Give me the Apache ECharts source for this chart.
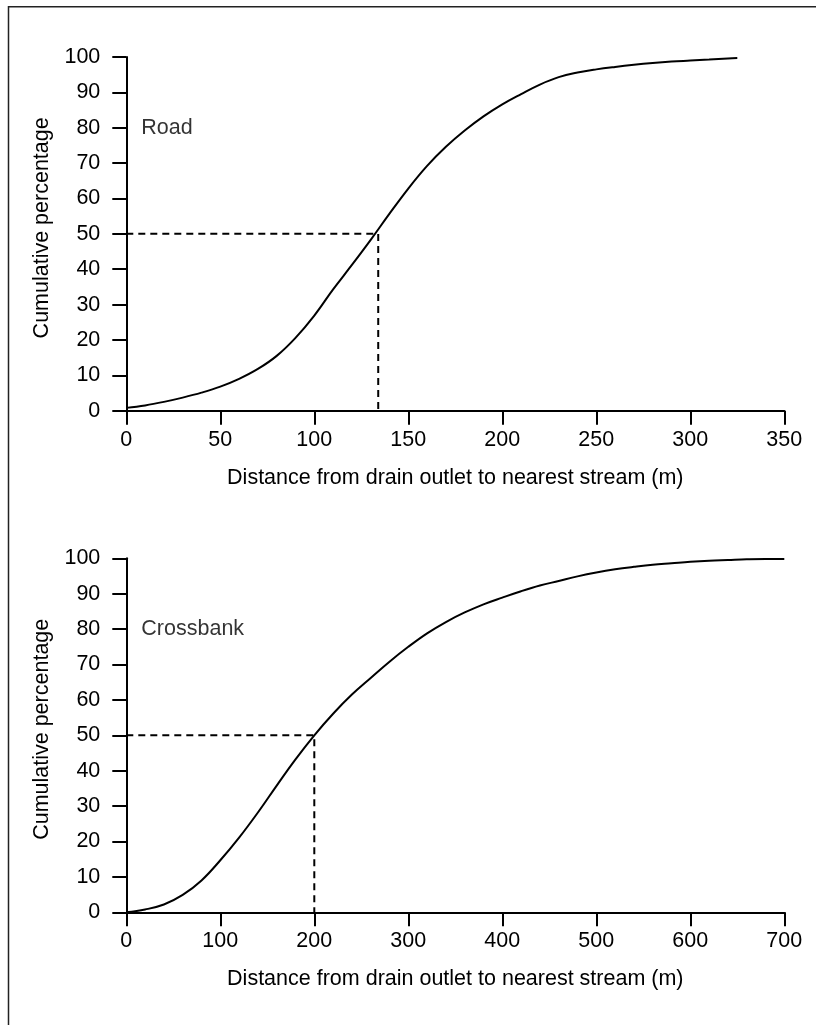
<!DOCTYPE html>
<html>
<head>
<meta charset="utf-8">
<script src="https://cdn.jsdelivr.net/npm/echarts@6/dist/echarts.min.js"></script>
<style>
html,body{margin:0;padding:0;background:#fff;}
#chart{width:816px;height:1025px;}
</style>
</head>
<body>
<div id="chart"></div>
<script>
// ---- Data ----
const roadDist = [0,10,20,30,40,50,60,70,80,90,100,110,120,130,140,150,160,170,180,190,200,210,220,230,240,250,260,270,280,290,300,310,320,325];
const roadPct  = [0.8,1.5,2.5,3.7,5.1,6.8,9.0,11.8,15.5,20.6,26.9,34.3,41.2,48.3,55.7,62.8,69.2,74.6,79.2,83.2,86.6,89.5,92.2,94.3,95.6,96.5,97.2,97.8,98.3,98.7,99.0,99.3,99.6,99.7];
const crossDist = [0,20,40,60,80,100,120,140,160,180,200,220,240,260,280,300,320,340,360,380,400,420,440,460,480,500,520,540,560,580,600,620,640,660,680,700];
const crossPct  = [0,0.8,2.2,4.9,9.0,14.7,21.1,28.2,35.8,43.2,50.0,56.1,61.5,66.2,70.8,75.0,78.8,82.0,84.7,87.0,88.9,90.7,92.3,93.6,94.9,96.0,96.9,97.6,98.2,98.6,99.0,99.3,99.5,99.7,99.8,99.8];
const roadMedian = 134;
const crossMedian = 200;
const medianPct = 50;
const yTicks = [0,10,20,30,40,50,60,70,80,90,100];
const roadXTicks = [0,50,100,150,200,250,300,350];
const crossXTicks = [0,100,200,300,400,500,600,700];
const panelNames = ['Road','Crossbank'];
const xTitle = 'Distance from drain outlet to nearest stream (m)';
const yTitle = 'Cumulative percentage';

const FONT = '"Liberation Sans", Arial, sans-serif';
const FS = 21.5;
const ink = '#000';

function pairs(xs, ys){ return xs.map((x,i)=>[x, ys[i]]); }

function xAxisCfg(idx, ticks){
  return {
    type:'value', gridIndex:idx,
    min:ticks[0], max:ticks[ticks.length-1], interval:ticks[1]-ticks[0],
    name:xTitle, nameLocation:'middle', nameGap:56,
    nameTextStyle:{fontFamily:FONT, fontSize:FS, color:ink},
    axisLine:{show:true, onZero:false, lineStyle:{color:ink, width:2}},
    axisTick:{show:true, inside:false, length:14, lineStyle:{color:ink, width:2}},
    axisLabel:{show:true, margin:18, fontFamily:FONT, fontSize:FS, color:ink},
    splitLine:{show:false}
  };
}
function yAxisCfg(idx){
  return {
    type:'value', gridIndex:idx,
    min:yTicks[0], max:yTicks[yTicks.length-1], interval:yTicks[1]-yTicks[0],
    name:yTitle, nameLocation:'middle', nameGap:63, nameRotate:90,
    nameTextStyle:{fontFamily:FONT, fontSize:FS, color:ink, padding:[0,0,0,12]},
    axisLine:{show:true, onZero:false, lineStyle:{color:ink, width:2}},
    axisTick:{show:true, inside:false, length:14, lineStyle:{color:ink, width:2}},
    axisLabel:{show:true, margin:26, fontFamily:FONT, fontSize:FS, color:ink},
    splitLine:{show:false}
  };
}
function curve(idx, xs, ys){
  return {
    type:'line', xAxisIndex:idx, yAxisIndex:idx,
    data:pairs(xs, ys), smooth:0.4, showSymbol:false, symbol:'none',
    lineStyle:{color:ink, width:2}, z:3, silent:true
  };
}
function medianLine(idx, med){
  return {
    type:'line', xAxisIndex:idx, yAxisIndex:idx,
    data:[[0, medianPct],[med, medianPct],[med, 0]], showSymbol:false, symbol:'none',
    lineStyle:{color:ink, width:2, type:[7,5]}, z:2, silent:true
  };
}
function panelLabel(idx, name){
  return {
    type:'scatter', xAxisIndex:idx, yAxisIndex:idx,
    data:[[idx===0?8:16, 80]], symbolSize:0,
    label:{show:true, position:'right', distance:0, formatter:name,
      fontFamily:FONT, fontSize:FS, color:ink, textBorderWidth:0},
    silent:true
  };
}

const chart = echarts.init(document.getElementById('chart'), null, {renderer:'canvas'});
chart.setOption({
  backgroundColor:'#fff',
  animation:false,
  grid:[
    {left:126.3, right:31.7, top:57, height:353.7},
    {left:126.3, right:31.7, top:558.3, height:354}
  ],
  xAxis:[xAxisCfg(0, roadXTicks), xAxisCfg(1, crossXTicks)],
  yAxis:[yAxisCfg(0), yAxisCfg(1)],
  series:[
    curve(0, roadDist, roadPct),
    medianLine(0, roadMedian),
    panelLabel(0, panelNames[0]),
    curve(1, crossDist, crossPct),
    medianLine(1, crossMedian),
    panelLabel(1, panelNames[1])
  ],
  graphic:[{
    type:'polyline',
    shape:{points:[[8.5,1025],[8.5,6.7],[816,6.7]]},
    style:{stroke:'#222', lineWidth:1.5, fill:null},
    silent:true
  }]
});
</script>
</body>
</html>
